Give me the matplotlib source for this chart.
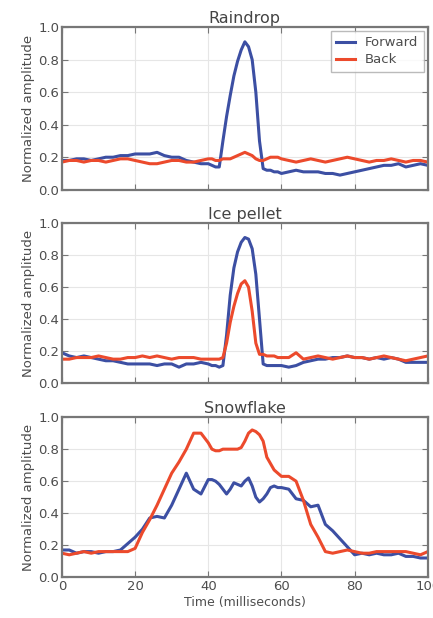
import numpy as np
import matplotlib.pyplot as plt

# eje de tiempo (ms): más fino cerca de los picos
t = np.concatenate([np.arange(0, 41, 2), np.arange(41, 60, 1), np.arange(60, 101, 2)])

# Raindrop
rain_fwd = [0.18, 0.18, 0.19, 0.19, 0.18, 0.19, 0.20, 0.20, 0.21, 0.21, 0.22,
            0.22, 0.22, 0.23, 0.21, 0.20, 0.20, 0.18, 0.17, 0.16, 0.16,
            0.15, 0.14, 0.14, 0.30, 0.45, 0.58, 0.70, 0.79, 0.86, 0.91, 0.88, 0.80, 0.60, 0.30, 0.13, 0.12, 0.12, 0.11, 0.11,
            0.10, 0.11, 0.12, 0.11, 0.11, 0.11, 0.10, 0.10, 0.09, 0.10, 0.11,
            0.12, 0.13, 0.14, 0.15, 0.15, 0.16, 0.14, 0.15, 0.16, 0.15]
rain_back = [0.17, 0.18, 0.18, 0.17, 0.18, 0.18, 0.17, 0.18, 0.19, 0.19, 0.18,
             0.17, 0.16, 0.16, 0.17, 0.18, 0.18, 0.17, 0.17, 0.18, 0.19,
             0.19, 0.18, 0.18, 0.19, 0.19, 0.19, 0.20, 0.21, 0.22, 0.23, 0.22, 0.21, 0.19, 0.18, 0.18, 0.19, 0.20, 0.20, 0.20,
             0.19, 0.18, 0.17, 0.18, 0.19, 0.18, 0.17, 0.18, 0.19, 0.20, 0.19,
             0.18, 0.17, 0.18, 0.18, 0.19, 0.18, 0.17, 0.18, 0.18, 0.17]

# Ice pellet
ice_fwd = [0.19, 0.17, 0.16, 0.17, 0.16, 0.15, 0.14, 0.14, 0.13, 0.12, 0.12,
           0.12, 0.12, 0.11, 0.12, 0.12, 0.10, 0.12, 0.12, 0.13, 0.12,
           0.11, 0.11, 0.10, 0.11, 0.30, 0.55, 0.72, 0.82, 0.88, 0.91, 0.90, 0.84, 0.68, 0.40, 0.12, 0.11, 0.11, 0.11, 0.11,
           0.11, 0.10, 0.11, 0.13, 0.14, 0.15, 0.15, 0.16, 0.16, 0.17, 0.16,
           0.16, 0.15, 0.16, 0.15, 0.16, 0.15, 0.13, 0.13, 0.13, 0.13]
ice_back = [0.15, 0.15, 0.16, 0.16, 0.16, 0.17, 0.16, 0.15, 0.15, 0.16, 0.16,
            0.17, 0.16, 0.17, 0.16, 0.15, 0.16, 0.16, 0.16, 0.15, 0.15,
            0.15, 0.15, 0.15, 0.16, 0.25, 0.38, 0.48, 0.56, 0.62, 0.64, 0.60, 0.45, 0.25, 0.18, 0.18, 0.17, 0.17, 0.17, 0.16,
            0.16, 0.16, 0.19, 0.15, 0.16, 0.17, 0.16, 0.15, 0.16, 0.17, 0.16,
            0.16, 0.15, 0.16, 0.17, 0.16, 0.15, 0.14, 0.15, 0.16, 0.17]

# Snowflake
snow_fwd = [0.17, 0.17, 0.15, 0.16, 0.16, 0.15, 0.16, 0.16, 0.17, 0.21, 0.25,
            0.30, 0.37, 0.38, 0.37, 0.45, 0.55, 0.65, 0.55, 0.52, 0.61,
            0.61, 0.60, 0.58, 0.55, 0.52, 0.55, 0.59, 0.58, 0.57, 0.60, 0.62, 0.57, 0.50, 0.47, 0.49, 0.52, 0.56, 0.57, 0.56,
            0.56, 0.55, 0.49, 0.48, 0.44, 0.45, 0.33, 0.29, 0.24, 0.19, 0.14,
            0.15, 0.14, 0.15, 0.14, 0.14, 0.15, 0.13, 0.13, 0.12, 0.12]
snow_back = [0.15, 0.14, 0.15, 0.16, 0.15, 0.16, 0.16, 0.16, 0.16, 0.16, 0.18,
             0.28, 0.36, 0.45, 0.55, 0.65, 0.72, 0.80, 0.90, 0.90, 0.84,
             0.80, 0.79, 0.79, 0.80, 0.80, 0.80, 0.80, 0.80, 0.81, 0.85, 0.90, 0.92, 0.91, 0.89, 0.85, 0.75, 0.71, 0.67, 0.65,
             0.63, 0.63, 0.60, 0.48, 0.33, 0.25, 0.16, 0.15, 0.16, 0.17, 0.16,
             0.15, 0.15, 0.16, 0.16, 0.16, 0.16, 0.16, 0.15, 0.14, 0.16]

titulos = ['Raindrop', 'Ice pellet', 'Snowflake']
series = [(rain_fwd, rain_back), (ice_fwd, ice_back), (snow_fwd, snow_back)]
ticks_y = [0.0, 0.2, 0.4, 0.6, 0.8, 1.0]
ticks_x = [0, 20, 40, 60, 80, 100]

azul = '#3c4fa3'
rojo = '#ec4a2c'
gris = '#4d4d4d'

fig = plt.figure(figsize=(4.33, 6.18), dpi=100)
posiciones = [(0.143, 0.693, 0.845, 0.263),
              (0.143, 0.380, 0.845, 0.259),
              (0.143, 0.066, 0.845, 0.259)]

for i, (pos, tit, (fwd, back)) in enumerate(zip(posiciones, titulos, series)):
    ax = fig.add_axes(pos)
    ax.plot(t, fwd, color=azul, lw=2.2, label='Forward')
    ax.plot(t, back, color=rojo, lw=2.2, label='Back')
    ax.set_xlim(0, 100)
    ax.set_ylim(0, 1.0)
    ax.set_yticks(ticks_y)
    ax.set_xticks(ticks_x)
    ax.grid(True, color='#e6e6e6', lw=0.8)
    ax.set_axisbelow(True)
    for s in ax.spines.values():
        s.set_color('#777777')
        s.set_linewidth(1.6)
    ax.tick_params(direction='in', length=4, color='#777777', labelsize=9.5,
                   labelcolor=gris, top=True, right=True, pad=2)
    ax.set_title(tit, fontsize=11.5, color='#444444', pad=3)
    ax.set_ylabel('Normalized amplitude', fontsize=9.5, color=gris, labelpad=2)
    if i < 2:
        ax.set_xticklabels([])
    else:
        ax.set_xticklabels(['0', '20', '40', '60', '80', '100'])
        ax.set_xlabel('Time (milliseconds)', fontsize=9, color=gris, labelpad=2)
    if i == 0:
        leg = ax.legend(loc='upper right', fontsize=9.5, frameon=True, fancybox=False,
                        handlelength=1.4, borderpad=0.4, labelspacing=0.3,
                        borderaxespad=0.3)
        leg.get_frame().set_edgecolor('#aaaaaa')
        for txt in leg.get_texts():
            txt.set_color(gris)

plt.savefig('out.png', dpi=100)
